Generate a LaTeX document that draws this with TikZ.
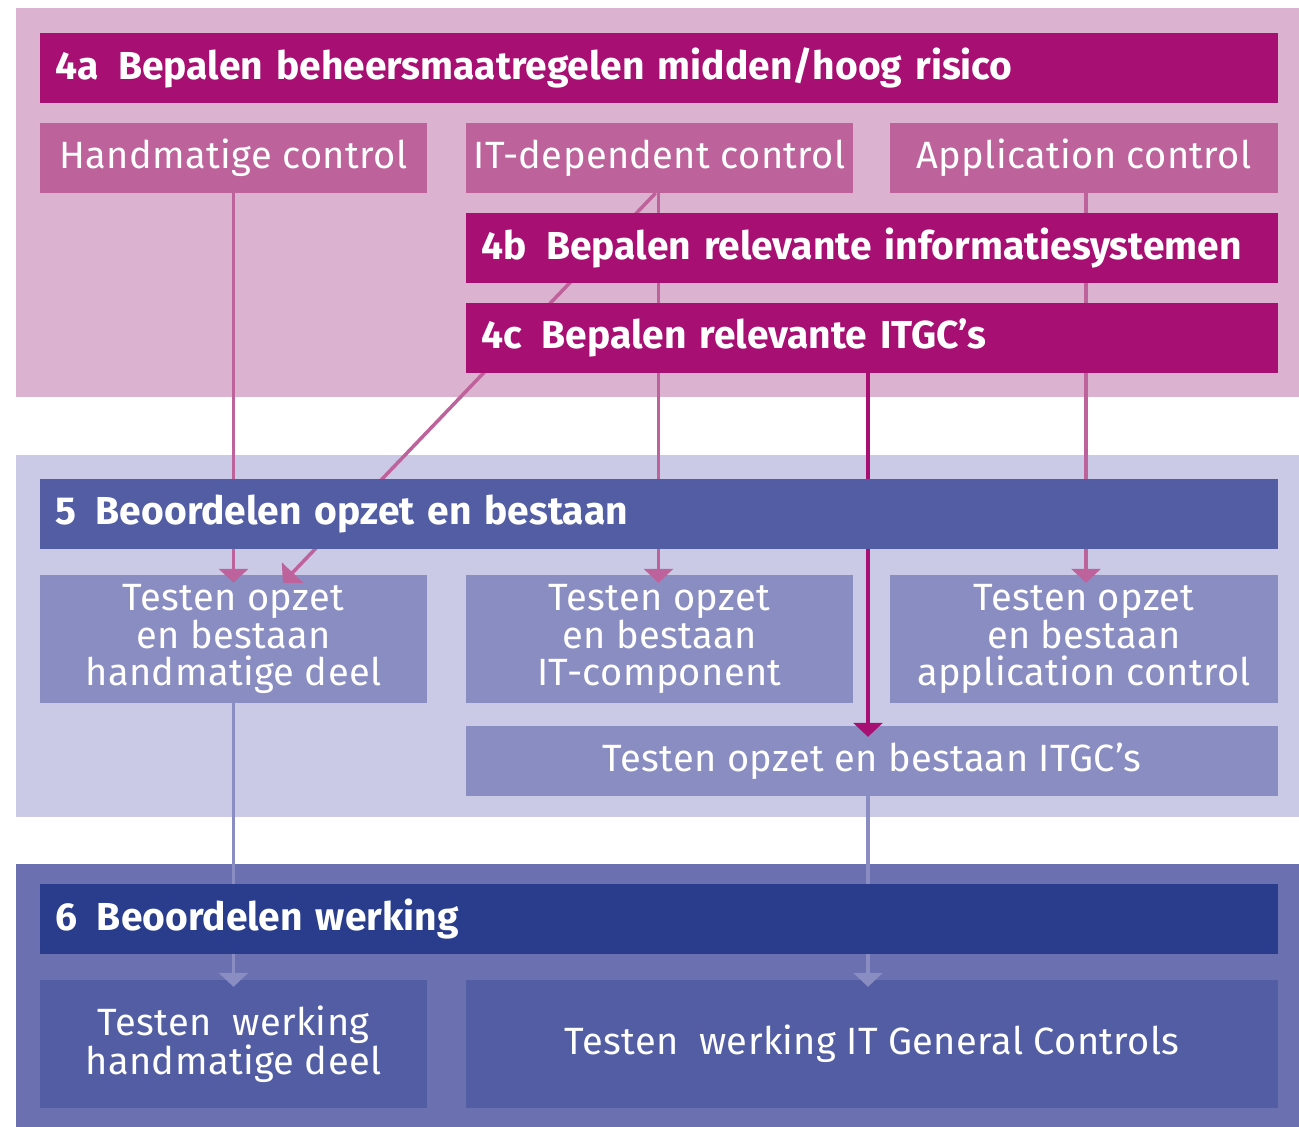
\documentclass[tikz,border=0pt]{standalone}
\usepackage{fontspec}
\setmainfont{Fira Sans}
\usetikzlibrary{positioning,arrows.meta,calc}
\definecolor{pinkbg}{HTML}{DBB2CF}
\definecolor{magenta}{HTML}{A70F73}
\definecolor{rose}{HTML}{BE629C}
\definecolor{lavbg}{HTML}{CACAE6}
\definecolor{indigo}{HTML}{525DA4}
\definecolor{lilac}{HTML}{8A8DC2}
\definecolor{slate}{HTML}{6B70B0}
\definecolor{navy}{HTML}{293D8C}
\newcommand{\numgap}{\hspace{20pt}}
\tikzset{
    panel/.style = {
        shape=rectangle,
        inner sep=0pt
    },
    bar/.style = {
        shape=rectangle,
        minimum height=70pt,
        inner xsep=15pt,
        inner ysep=0pt,
        align=left,
        text=white,
        font=\fontsize{39}{40}\selectfont\bfseries
    },
    control/.style = {
        shape=rectangle,
        fill=rose,
        minimum height=70pt,
        inner sep=0pt,
        text=white,
        font=\fontsize{38}{38}\selectfont\addfontfeatures{LetterSpace=1}
    },
    testbox/.style = {
        shape=rectangle,
        minimum height=128pt,
        inner sep=0pt,
        align=center,
        text=white,
        font=\fontsize{38}{37.5}\selectfont\addfontfeatures{LetterSpace=1}
    },
    link/.style = {
        draw,
        line width=3.5pt
    },
    >={Triangle[width=29pt,length=14pt]},
}
\begin{document}
\begin{tikzpicture}[x=1pt,y=-1pt]
            \useasboundingbox (0,0) rectangle (1299,1127);

            % panels
            \node[panel, fill=pinkbg, minimum width=1283pt, minimum height=389pt] (panel4) at (657.5,202.5) {};
            \node[panel, fill=lavbg, minimum width=1283pt, minimum height=362pt] (panel5) at (657.5,636) {};
            \node[panel, fill=slate, minimum width=1283pt, minimum height=263pt] (panel6) at (657.5,995.5) {};

            % boxes
            \node[testbox, fill=lilac, minimum width=387pt] (thand) at (233.5,639) {Testen opzet\\en bestaan\\handmatige deel};
            \node[testbox, fill=lilac, minimum width=387pt] (tit) at (659.5,639) {Testen opzet\\en bestaan\\IT-component};
            \node[testbox, fill=lilac, minimum width=388pt] (tappl) at (1084,639) {Testen opzet\\en bestaan\\application control};
            \node[testbox, fill=lilac, minimum width=812pt, minimum height=70pt] (itgcs) at (872,761) {Testen opzet en bestaan ITGC's};
            \node[testbox, fill=indigo, minimum width=387pt] (whand) at (233.5,1044) {Testen\ \ werking\\handmatige deel};
            \node[testbox, fill=indigo, minimum width=812pt] (wgen) at (872,1044) {Testen\ \ werking IT General Controls};

            \node[control, minimum width=387pt] (hand) at (233.5,158) {Handmatige control};
            \node[control, minimum width=387pt] (itdep) at (659.5,158) {IT-dependent control};
            \node[control, minimum width=388pt] (appl) at (1084,158) {Application control};

            % pink links
            \path[link, ->, rose, shorten >=-8pt] (hand.south) -- (thand.north);
            \path[link, ->, rose, shorten >=-11pt] ([xshift=-4pt]itdep.south) -- ($(thand.north)+(57,0)$);
            \path[link, ->, rose, shorten >=-8pt] ([xshift=-1pt]itdep.south) -- ([xshift=-1pt]tit.north);
            \path[link, ->, rose, shorten >=-8pt] ([xshift=2pt]appl.south) -- ([xshift=2pt]tappl.north);

            \node[bar, fill=magenta, text width=782pt] (bar4b) at (872,248) {4b\numgap Bepalen relevante informatiesystemen};
            \node[bar, fill=magenta, text width=782pt] (bar4c) at (872,338) {4c\numgap Bepalen relevante ITGC's};

            \path[link, ->, magenta, shorten >=-11pt] ([xshift=-4pt]bar4c.south) -- ([xshift=-4pt]itgcs.north);

            % lilac links
            \path[link, ->, lilac, shorten >=-7pt] (thand.south) -- (whand.north);
            \path[link, ->, lilac, shorten >=-7pt] ([xshift=-4pt]itgcs.south) -- ([xshift=-4pt]wgen.north);

            \node[bar, fill=magenta, text width=1208pt] (bar4a) at (659,68) {4a\numgap Bepalen beheersmaatregelen midden/hoog risico};
            \node[bar, fill=indigo, text width=1208pt] (bar5) at (659,514) {5\numgap Beoordelen opzet en bestaan};
            \node[bar, fill=navy, text width=1208pt] (bar6) at (659,919) {6\numgap Beoordelen werking};

        \end{tikzpicture}
\end{document}
